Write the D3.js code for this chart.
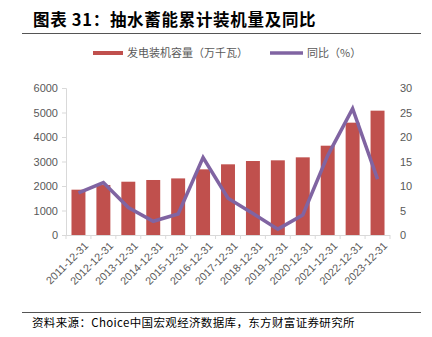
<!DOCTYPE html>
<html><head><meta charset="utf-8">
<script src="https://cdn.jsdelivr.net/npm/d3@7"></script>
<style>body{margin:0;background:#fff;}svg{display:block;font-family:"Noto Sans CJK SC","Noto Sans",sans-serif;}</style>
</head><body><svg id="c" width="432" height="337"></svg>
<script>
const categories = ["2011-12-31","2012-12-31","2013-12-31","2014-12-31","2015-12-31","2016-12-31","2017-12-31","2018-12-31","2019-12-31","2020-12-31","2021-12-31","2022-12-31","2023-12-31"];
const capacity = [1850, 2040, 2175, 2245, 2310, 2680, 2885, 3020, 3048, 3170, 3645, 4585, 5075];
const yoy = [8.6, 10.7, 5.6, 2.8, 4.3, 15.8, 7.5, 4.4, 1.2, 4.1, 16.2, 25.8, 11.4];
const leftTicks = [0,1000,2000,3000,4000,5000,6000];
const rightTicks = [0,5,10,15,20,25,30];
const seriesNames = ["发电装机容量（万千瓦）","同比（%）"];
const title = "图表 31：抽水蓄能累计装机量及同比";
const source = "资料来源：Choice中国宏观经济数据库，东方财富证券研究所";

const svg = d3.select("#c");
const L = 66, R = 390, T = 88, B = 235;
const barColor = "#C0504D", lineColor = "#8064A2", axisGray = "#D9D9D9", textGray = "#595959";

// title
svg.append("text").attr("x", 33).attr("y", 26).attr("font-size", 16.5).attr("font-weight", "bold")
  .attr("letter-spacing", 0.7).attr("fill", "#000").text(title);
svg.append("line").attr("x1", 22).attr("x2", 421).attr("y1", 33.5).attr("y2", 33.5).attr("stroke", "#555").attr("stroke-width", 1);

// legend
const lg = svg.append("g");
lg.append("line").attr("x1", 93).attr("x2", 123).attr("y1", 53).attr("y2", 53).attr("stroke", barColor).attr("stroke-width", 4);
lg.append("text").attr("x", 127).attr("y", 57).attr("font-size", 11).attr("fill", textGray).text(seriesNames[0]);
lg.append("line").attr("x1", 270).attr("x2", 303).attr("y1", 53).attr("y2", 53).attr("stroke", lineColor).attr("stroke-width", 3.5);
lg.append("text").attr("x", 307).attr("y", 57).attr("font-size", 11).attr("fill", textGray).text(seriesNames[1]);

const x = d3.scaleBand().domain(categories).range([L, R]).paddingInner(0.44).paddingOuter(0.22);
const yL = d3.scaleLinear().domain([0, 6000]).range([B, T]);
const yR = d3.scaleLinear().domain([0, 30]).range([B, T]);

// bars
svg.append("g").selectAll("rect").data(capacity).join("rect")
  .attr("x", (d,i) => x(categories[i])).attr("width", x.bandwidth())
  .attr("y", d => yL(d)).attr("height", d => B - yL(d)).attr("fill", barColor);

// left axis
const la = svg.append("g").attr("transform", `translate(${L},0)`)
  .call(d3.axisLeft(yL).tickValues(leftTicks).tickSize(4).tickPadding(4).tickFormat(d3.format("d")));
la.select(".domain").attr("stroke", axisGray);
la.selectAll(".tick line").attr("stroke", axisGray);
la.selectAll("text").attr("fill", textGray).attr("font-size", 11).attr("font-family", "Liberation Sans, Arial, sans-serif");

// right axis
const ra = svg.append("g").attr("transform", `translate(${R},0)`)
  .call(d3.axisRight(yR).tickValues(rightTicks).tickSize(0).tickPadding(10));
ra.select(".domain").remove();
ra.selectAll("text").attr("fill", textGray).attr("font-size", 11).attr("font-family", "Liberation Sans, Arial, sans-serif");

// bottom axis
const xa = svg.append("g").attr("transform", `translate(0,${B})`)
  .call(d3.axisBottom(x).tickSize(0).tickPadding(6));
xa.select(".domain").attr("stroke", axisGray).attr("d", `M${L},0.5H${R}`);
xa.selectAll(".tick text").attr("fill", textGray).attr("font-size", 10.8)
  .attr("font-family", "Liberation Sans, Arial, sans-serif")
  .attr("text-anchor", "end").attr("dy", "0.3em")
  .attr("transform", "translate(4,5) rotate(-45)");
// band boundary ticks
const bounds = d3.range(categories.length + 1).map(i => L + i * (R - L) / categories.length);
svg.append("g").selectAll("line").data(bounds).join("line")
  .attr("x1", d => d).attr("x2", d => d).attr("y1", B).attr("y2", B + 4)
  .attr("stroke", axisGray);

// line
const line = d3.line().x((d,i) => x(categories[i]) + x.bandwidth()/2).y(d => yR(d));
svg.append("path").datum(yoy).attr("d", line).attr("fill", "none")
  .attr("stroke", lineColor).attr("stroke-width", 3.5).attr("stroke-linejoin", "miter");

// footer
svg.append("line").attr("x1", 22).attr("x2", 421).attr("y1", 312.5).attr("y2", 312.5).attr("stroke", "#555").attr("stroke-width", 1);
svg.append("text").attr("x", 32).attr("y", 327).attr("font-size", 11.5).attr("letter-spacing", 0.35).attr("fill", "#000").text(source);
</script></body></html>
